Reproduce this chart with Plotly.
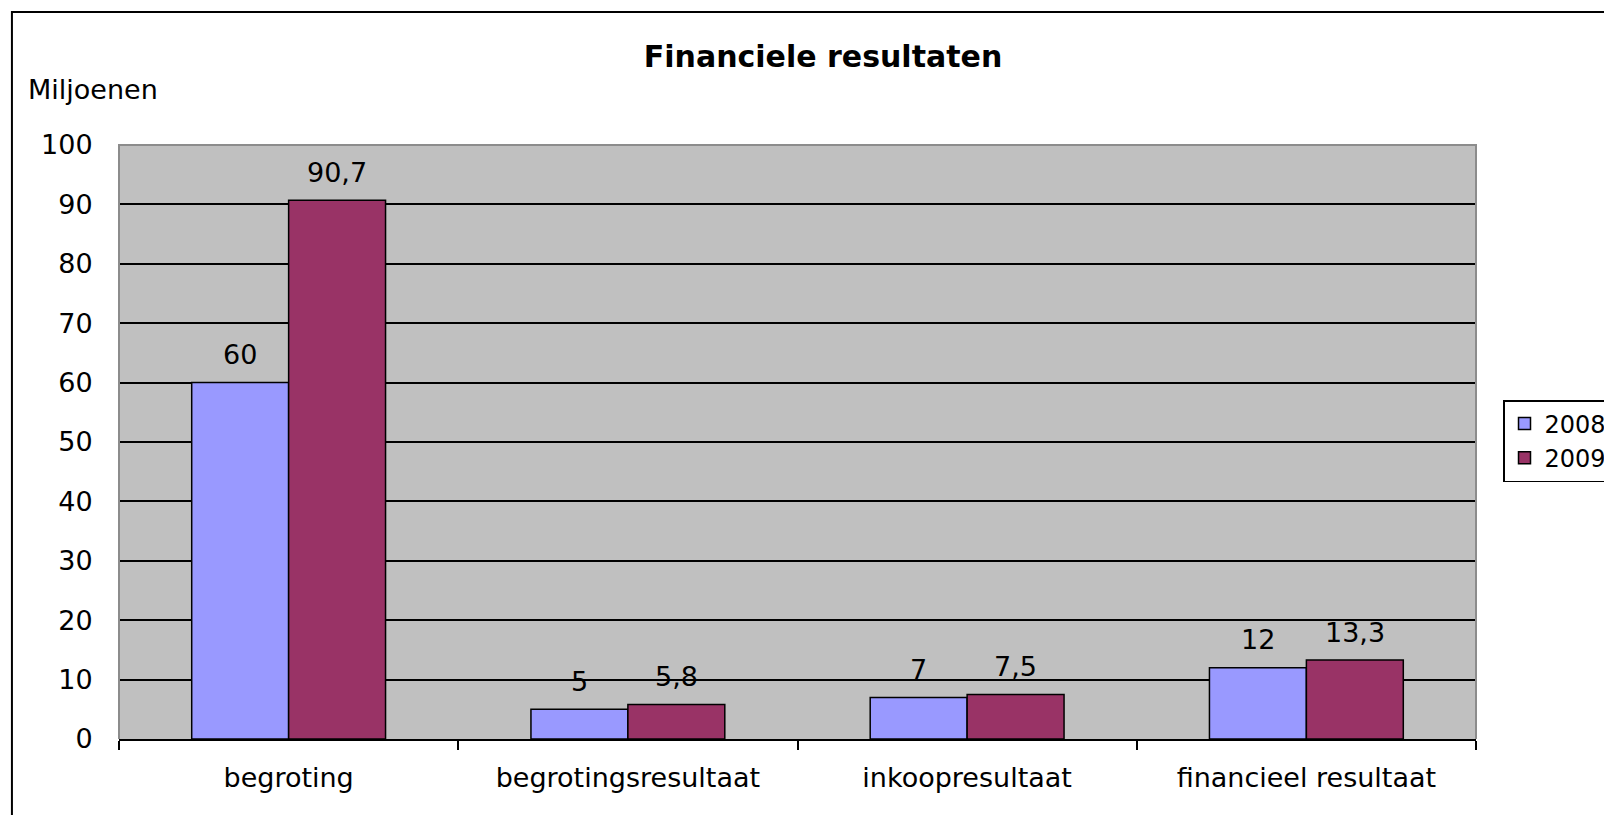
import plotly.graph_objects as go

categories = ["begroting", "begrotingsresultaat", "inkoopresultaat", "financieel resultaat"]
series_names = ["2008", "2009"]
values_2008 = [60, 5, 7, 12]
values_2009 = [90.7, 5.8, 7.5, 13.3]
y_ticks = [0, 10, 20, 30, 40, 50, 60, 70, 80, 90, 100]

colors = ["#9999FF", "#993366"]
FONT = "DejaVu Sans"
bargap = 1.5 / 3.5

fig = go.Figure()
for name, vals, col in zip(series_names, [values_2008, values_2009], colors):
    fig.add_trace(go.Bar(
        x=categories, y=vals, name=name, legendgroup=name,
        marker=dict(color=col, line=dict(color="black", width=1.5)),
    ))

# data labels above the bars
offset = (1 - bargap) / 4
for k, vals in enumerate([values_2008, values_2009]):
    sign = -1 if k == 0 else 1
    for i, v in enumerate(vals):
        fig.add_annotation(
            x=i + sign * offset, y=v, xref="x", yref="y",
            text=f"{v:g}".replace(".", ","), showarrow=False,
            yanchor="middle", yshift=28,
            font=dict(family=FONT, size=27, color="black"),
        )

# "Miljoenen" label
fig.add_annotation(
    x=-0.0685, y=1.0926, xref="paper", yref="paper", text="Miljoenen",
    showarrow=False, xanchor="left", yanchor="middle",
    font=dict(family=FONT, size=27, color="black"),
)

# plot area border (left, top, right)
fig.add_shape(type="path", xref="paper", yref="paper",
              path="M 0,0 L 0,1 L 1,1 L 1,0",
              line=dict(color="#8c8c8c", width=2), layer="above")
# outer chart border
fig.add_shape(type="path", xref="paper", yref="paper",
              path="M -0.0789,-0.3 L -0.0789,1.2239 L 1.3,1.2239",
              line=dict(color="black", width=2), layer="above")

fig.update_layout(
    width=1612, height=815,
    margin=dict(l=111, r=144, t=137, b=84, autoexpand=False),
    paper_bgcolor="white", plot_bgcolor="#C0C0C0",
    separators=",.",
    barmode="group", bargap=bargap, bargroupgap=0,
    font=dict(family=FONT, size=27, color="black"),
    title=dict(text="<b>Financiele resultaten</b>", x=0.5056, xref="container",
               xanchor="center", y=0.940, yref="container", yanchor="middle",
               font=dict(family=FONT, size=30, color="black")),
    legend=dict(x=1.0199, y=0.5707, xanchor="left", yanchor="top",
                xref="paper", yref="paper",
                bordercolor="black", borderwidth=1.5, bgcolor="white",
                font=dict(family=FONT, size=24, color="black"),
                tracegroupgap=9, traceorder="normal", itemwidth=30),
    showlegend=True,
)
fig.update_xaxes(
    type="category", tickson="boundaries", ticks="outside", ticklen=9,
    tickwidth=1.5, tickcolor="black", showline=True, linecolor="black",
    linewidth=1.5, showgrid=False, ticklabelstandoff=14,
    tickfont=dict(family=FONT, size=27, color="black"),
)
fig.update_yaxes(
    range=[0, 100], tickvals=y_ticks, showgrid=True, gridcolor="black",
    gridwidth=1.5, zeroline=False, showline=False, ticks="outside",
    ticklen=20, tickcolor="rgba(0,0,0,0)",
    tickfont=dict(family=FONT, size=27, color="black"),
)

fig.write_html("out.html")
